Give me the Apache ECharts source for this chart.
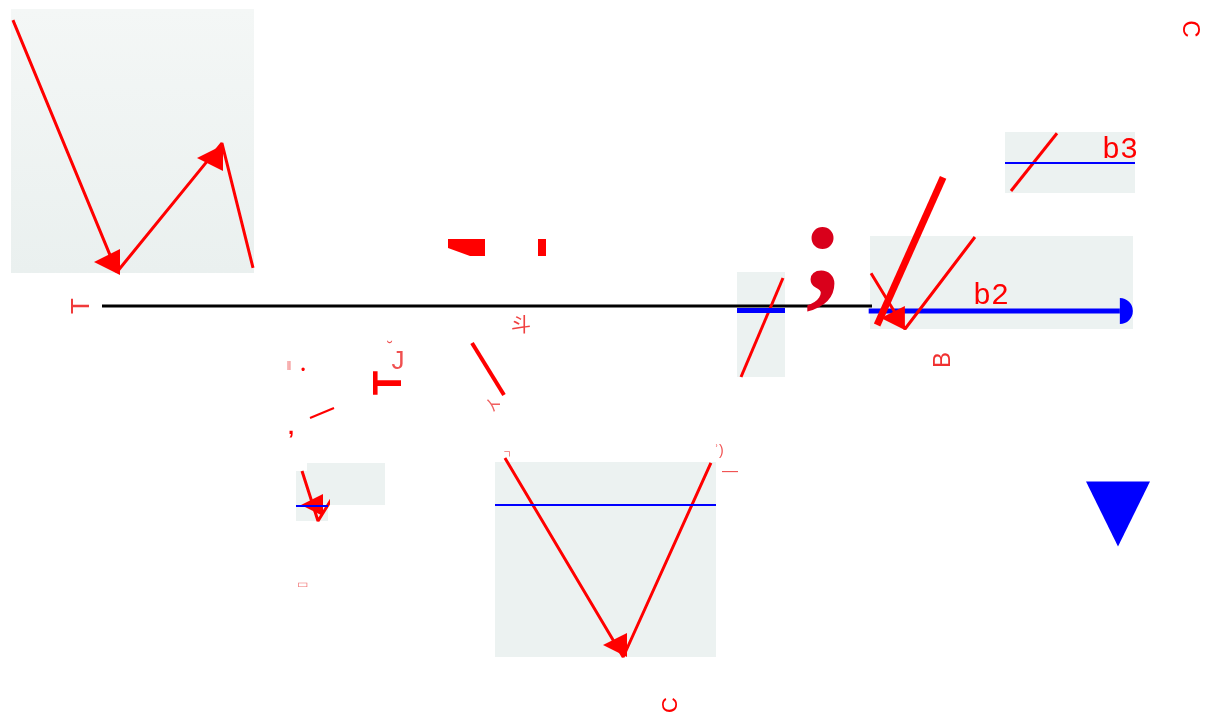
<!DOCTYPE html>
<html>
<head>
<meta charset="utf-8">
<script src="https://cdn.jsdelivr.net/npm/echarts@6/dist/echarts.min.js"></script>
<style>html,body{margin:0;padding:0;background:#fff}#c{width:1206px;height:721px}</style>
</head>
<body>
<div id="c"></div>
<script>
// ---- data (panel units are 0..100) ----
const panelA = [[0.8, 95.8], [43.6, 0.4], [86.8, 49.2], [99.6, 1.9]];
const panelAHeads = [[39.5, 4.2], [81.9, 43.6]];
const panelB = [[18.75, 100], [68.75, 0], [181, 116]];
const panelBHead = [[50, 32]];
const panelBLevel = 30;
const panelC = [[4.5, 102], [58, 0], [97.7, 99.5]];
const panelCHead = [[54.3, 6.2]];
const panelCLevel = 77.9;
const panelD = [[8.3, 0], [95.8, 94.3]];
const panelDLevel = 63.8;
const panelE = [[0.4, 60], [13.3, 0], [39.9, 98.9]];
const panelEHead = [[8.7, 11.8]];
const panelEStroke = [[2.7, 4.3], [27.8, 163]];
const panelELevel = 19.4;
const panelELevelSpan = [-0.5, 95];
const panelF = [[4.6, 3.3], [40, 98]];
const panelFLevel = 49.7;
// canvas-space strokes
const baseLine = [[102, 306], [872, 306]];
const slashA = [[472, 343], [504, 395]];
const slashB = [[310, 418], [334, 408]];
const blueMarker = [[1118, 514]];
const panelLabels = ['b2', 'b3'];
const glyphs = ['T', 'T', 'J', '˘', '‖', '•', ',', 'イ', 'ㄱ', 'ʾ)', '—', '▭', '斗', 'B', 'C', 'C', ';'];

const RED = '#ff0000', BLUE = '#0000ff', PANEL = '#ecf2f1';
const chart = echarts.init(document.getElementById('c'));

const rects = [
  [0, 0, 1206, 721],
  [11, 9, 243, 264],
  [296, 471, 32, 50],
  [307, 463, 78, 42],
  [495, 462, 221, 195],
  [737, 272, 48, 105],
  [870, 236, 263, 93],
  [1005, 132, 130, 61]
];
const grid = rects.map((r, i) => ({
  left: r[0], top: r[1], width: r[2], height: r[3],
  show: i > 0, borderWidth: 0,
  backgroundColor: i === 1 ? {type: 'linear', x: 0, y: 0, x2: 0, y2: 1, colorStops: [{offset: 0, color: '#f4f7f6'}, {offset: 1, color: '#eaf0ef'}]} : PANEL
}));
const xAxis = rects.map((r, i) => ({type: 'value', gridIndex: i, min: 0, max: i === 0 ? 1206 : 100, show: false}));
const yAxis = rects.map((r, i) => ({type: 'value', gridIndex: i, min: 0, max: i === 0 ? 721 : 100, inverse: i === 0, show: false}));

function line(gi, data, color, width, z) {
  return {type: 'line', xAxisIndex: gi, yAxisIndex: gi, data: data, showSymbol: false, clip: false, silent: true,
    z: z || 2, lineStyle: {color: color, width: width}, itemStyle: {color: color, opacity: 1}};
}
function level(gi, y, width) {
  const s = line(gi, [], BLUE, 0);
  s.markLine = {silent: true, animation: false, label: {show: false},
    lineStyle: {color: BLUE, width: width, type: 'solid', opacity: 1},
    symbol: 'none', data: [{yAxis: y}]};
  return s;
}
function heads(gi, data, size) {
  return {type: 'scatter', xAxisIndex: gi, yAxisIndex: gi, data: data, symbol: 'triangle', symbolRotate: 90,
    symbolSize: size, silent: true, clip: false, z: 3, itemStyle: {color: RED, opacity: 1}};
}
// panel E level line with a rounded end cap
const levelE = {
  type: 'line', xAxisIndex: 6, yAxisIndex: 6, clip: false, silent: true, z: 2, showSymbol: true,
  lineStyle: {color: BLUE, width: 5}, itemStyle: {color: BLUE, opacity: 1},
  data: [
    {value: [panelELevelSpan[0], panelELevel], symbol: 'none'},
    {value: [panelELevelSpan[1], panelELevel], symbol: 'path://M-10,0 A10,10 0 0 1 10,0 Z M-10,10 L10,10', symbolSize: [26, 26], symbolRotate: -90}
  ]
};

const series = [
  line(0, baseLine, '#000000', 3),
  line(0, slashA, RED, 4),
  line(0, slashB, RED, 2),
  {type: 'scatter', xAxisIndex: 0, yAxisIndex: 0, data: blueMarker, symbol: 'triangle', symbolRotate: 180,
    symbolSize: [64, 65], silent: true, itemStyle: {color: BLUE, opacity: 1}},
  line(1, panelA, RED, 3), heads(1, panelAHeads, 26),
  level(2, panelBLevel, 2), line(2, panelB, RED, 3), heads(2, panelBHead, 22),
  level(4, panelCLevel, 2), line(4, panelC, RED, 3), heads(4, panelCHead, 24),
  level(5, panelDLevel, 5), line(5, panelD, RED, 3),
  levelE, line(6, panelE, RED, 3), heads(6, panelEHead, 24),
  line(6, panelEStroke, RED, 7, 6),
  level(7, panelFLevel, 2), line(7, panelF, RED, 3)
];

// decorative glyph placements
const place = [
  {x: 82, y: 306, s: 26, r: Math.PI / 2, c: '#f03a3a', w: 'normal'},
  {x: 390, y: 383, s: 40, r: Math.PI / 2, c: RED, w: 'bold'},
  {x: 398, y: 362, s: 26, r: 0, c: '#f05050', w: 'normal'},
  {x: 390, y: 349, s: 16, r: 0, c: '#f05050', w: 'normal'},
  {x: 289, y: 367, s: 12, r: 0, c: '#f07070', w: 'normal'},
  {x: 303, y: 371, s: 12, r: 0, c: RED, w: 'normal'},
  {x: 291, y: 428, s: 22, r: 0, c: RED, w: 'bold'},
  {x: 495, y: 405, s: 16, r: Math.PI / 2, c: '#f06060', w: 'normal'},
  {x: 507, y: 455, s: 10, r: 0, c: '#f07070', w: 'normal'},
  {x: 719, y: 451, s: 14, r: 0, c: '#f05050', w: 'normal'},
  {x: 730, y: 472, s: 16, r: 0, c: '#f05050', w: 'normal'},
  {x: 302, y: 585, s: 12, r: 0, c: '#f07070', w: 'normal'},
  {x: 521, y: 326, s: 20, r: 0, c: '#f04040', w: 'normal'},
  {x: 943, y: 360, s: 24, r: Math.PI / 2, c: '#f03030', w: 'normal'},
  {x: 1190, y: 29, s: 24, r: -Math.PI / 2, c: RED, w: 'normal'},
  {x: 671, y: 705, s: 22, r: Math.PI / 2, c: RED, w: 'normal'},
  {x: 823, y: 256, s: 136, r: 0, c: '#d9001b', w: 'bold', f: 'Liberation Serif'}
];
const graphic = glyphs.map((t, i) => {
  const p = place[i];
  return {type: 'text', x: p.x, y: p.y, rotation: p.r, silent: true, z: 10,
    style: {text: t, fill: p.c, textAlign: 'center', textVerticalAlign: 'middle',
      font: p.w + ' ' + p.s + 'px "' + (p.f || 'Liberation Sans') + '", "Noto Sans CJK SC"'}};
});
const labelPos = [[973, 296], [1102, 150]];
panelLabels.forEach((t, i) => graphic.push({type: 'text', x: labelPos[i][0], y: labelPos[i][1], silent: true, z: 10,
  style: {text: t, fill: RED, textAlign: 'left', textVerticalAlign: 'middle', font: '30px "Liberation Mono"'}}));
// top fragments of a clipped glyph
graphic.push({type: 'polygon', silent: true, z: 10, shape: {points: [[448, 239], [485, 239], [485, 256], [470, 256], [448, 248]]}, style: {fill: RED}});
graphic.push({type: 'rect', silent: true, z: 10, shape: {x: 538, y: 239, width: 8, height: 17}, style: {fill: RED}});

chart.setOption({animation: false, backgroundColor: '#ffffff', grid, xAxis, yAxis, series, graphic});
</script>
</body>
</html>
